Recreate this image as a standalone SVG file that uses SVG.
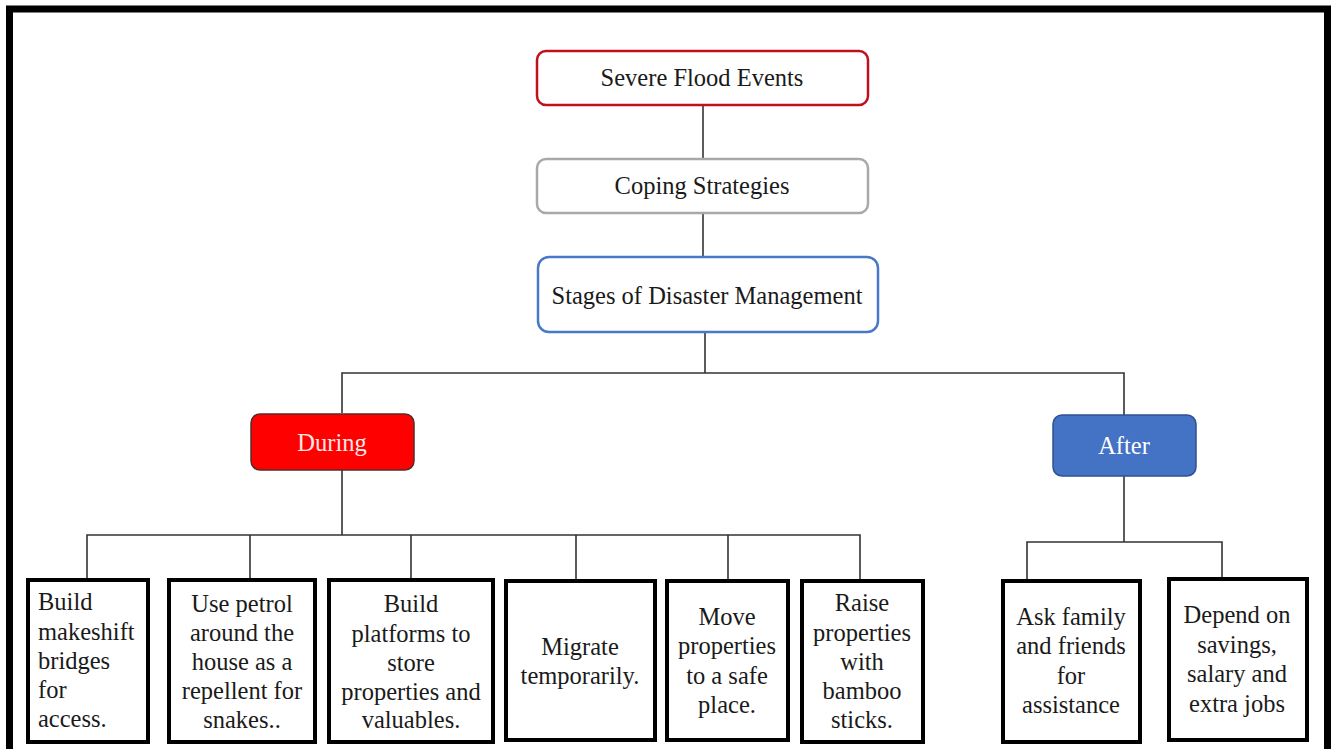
<svg xmlns="http://www.w3.org/2000/svg" width="1336" height="749" viewBox="0 0 1336 749">
  <style>
    text { font-family: "Liberation Serif", "Times New Roman", serif; font-size: 24.5px; fill: #1a1a1a; }
    .c { text-anchor: middle; }
    .l { text-anchor: start; }
    .frame { fill: none; stroke: #000; stroke-width: 7; }
    .top { fill: #fff; stroke-width: 2.5; }
    .leaf { fill: #fff; stroke: #000; stroke-width: 4; }
    .conn { fill: none; stroke: #333; stroke-width: 1.6; }
  </style>

  <rect width="1336" height="749" fill="#fff"/>
  <!-- outer frame; bottom edge runs off the page -->
  <rect class="frame" x="9.5" y="9" width="1318" height="760"/>

  <!-- connectors -->
  <g id="connectors">
    <line class="conn" x1="703" y1="105" x2="703" y2="158"/>
    <line class="conn" x1="703" y1="213" x2="703" y2="256"/>
    <line class="conn" x1="705" y1="332" x2="705" y2="373"/>
    <polyline class="conn" points="342,413 342,373 1124,373 1124,415"/>
    <line class="conn" x1="342" y1="470" x2="342" y2="535"/>
    <polyline class="conn" points="87,579 87,535 860,535 860,580"/>
    <line class="conn" x1="250" y1="535" x2="250" y2="579"/>
    <line class="conn" x1="411" y1="535" x2="411" y2="579"/>
    <line class="conn" x1="576" y1="535" x2="576" y2="580"/>
    <line class="conn" x1="728" y1="535" x2="728" y2="580"/>
    <line class="conn" x1="1124" y1="476" x2="1124" y2="542"/>
    <polyline class="conn" points="1027,580 1027,542 1222,542 1222,578"/>
  </g>

  <g id="severe-flood-events">
    <rect class="top" x="537" y="51" width="331" height="54" rx="9" stroke="#c0111a"/>
    <text class="c" x="702" y="86">Severe Flood Events</text>
  </g>
  <g id="coping-strategies">
    <rect class="top" x="537" y="159" width="331" height="54" rx="9" stroke="#a9a9a9"/>
    <text class="c" x="702" y="194">Coping Strategies</text>
  </g>
  <g id="stages">
    <rect class="top" x="538" y="257" width="340" height="75" rx="11" stroke="#4a78c8"/>
    <text class="c" x="707" y="304">Stages of Disaster Management</text>
  </g>

  <g id="during">
    <rect x="251" y="414" width="163" height="56" rx="9" fill="#fe0000" stroke="#5a2a2a" stroke-width="1.5"/>
    <text class="c" x="332" y="451" style="fill:#ffe6e6">During</text>
  </g>
  <g id="after">
    <rect x="1053" y="415" width="143" height="61" rx="9" fill="#4472c4" stroke="#2f528f" stroke-width="1.5"/>
    <text class="c" x="1124" y="454" style="fill:#ffffff">After</text>
  </g>

  <g id="makeshift-bridges">
    <rect class="leaf" x="28" y="580" width="120" height="162"/>
    <text class="l" x="38" y="610">Build</text>
    <text class="l" x="38" y="640">makeshift</text>
    <text class="l" x="38" y="669">bridges</text>
    <text class="l" x="38" y="698">for</text>
    <text class="l" x="38" y="727">access.</text>
  </g>
  <g id="petrol-repellent">
    <rect class="leaf" x="169" y="580" width="146" height="162"/>
    <text class="c" x="242" y="612">Use petrol</text>
    <text class="c" x="242" y="641">around the</text>
    <text class="c" x="242" y="670">house as a</text>
    <text class="c" x="242" y="699">repellent for</text>
    <text class="c" x="242" y="728">snakes..</text>
  </g>
  <g id="platforms">
    <rect class="leaf" x="329" y="580" width="164" height="162"/>
    <text class="c" x="411" y="612">Build</text>
    <text class="c" x="411" y="642">platforms to</text>
    <text class="c" x="411" y="671">store</text>
    <text class="c" x="411" y="700">properties and</text>
    <text class="c" x="411" y="728">valuables.</text>
  </g>
  <g id="migrate">
    <rect class="leaf" x="506" y="581" width="149" height="159"/>
    <text class="c" x="580" y="655">Migrate</text>
    <text class="c" x="580" y="684">temporarily.</text>
  </g>
  <g id="move-properties">
    <rect class="leaf" x="667" y="581" width="121" height="159"/>
    <text class="c" x="727" y="625">Move</text>
    <text class="c" x="727" y="654">properties</text>
    <text class="c" x="727" y="684">to a safe</text>
    <text class="c" x="727" y="713">place.</text>
  </g>
  <g id="raise-properties">
    <rect class="leaf" x="802" y="581" width="121" height="161"/>
    <text class="c" x="862" y="611">Raise</text>
    <text class="c" x="862" y="641">properties</text>
    <text class="c" x="862" y="670">with</text>
    <text class="c" x="862" y="699">bamboo</text>
    <text class="c" x="862" y="728">sticks.</text>
  </g>
  <g id="family-friends">
    <rect class="leaf" x="1003" y="581" width="137" height="161"/>
    <text class="c" x="1071" y="625">Ask family</text>
    <text class="c" x="1071" y="654">and friends</text>
    <text class="c" x="1071" y="684">for</text>
    <text class="c" x="1071" y="713">assistance</text>
  </g>
  <g id="savings-salary">
    <rect class="leaf" x="1169" y="579" width="138" height="161"/>
    <text class="c" x="1237" y="623">Depend on</text>
    <text class="c" x="1237" y="653">savings,</text>
    <text class="c" x="1237" y="682">salary and</text>
    <text class="c" x="1237" y="712">extra jobs</text>
  </g>
</svg>
